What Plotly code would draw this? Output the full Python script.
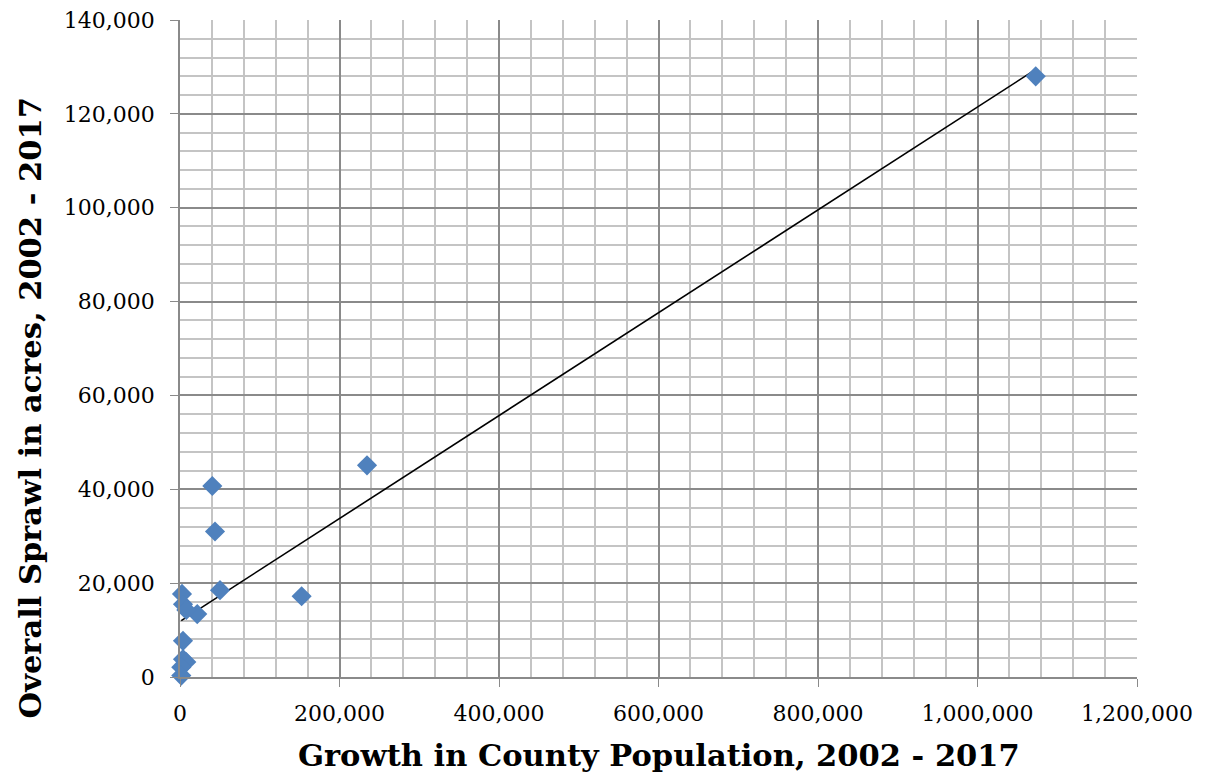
import numpy as np
import plotly.graph_objects as go

# County population growth vs. overall sprawl (acres), 2002 - 2017
pop_growth = [1073000, 234500, 40500, 43900, 50200, 152500, 21600,
              2500, 3750, 7900, 3750, 3750, 7900, 1600, 1600]
sprawl_acres = [128000, 45100, 40700, 31000, 18500, 17200, 13400,
                17700, 15500, 14300, 7700, 3800, 3200, 2100, 300]

x_ticks = [0, 200000, 400000, 600000, 800000, 1000000, 1200000]
x_tick_labels = ["0", "200,000", "400,000", "600,000", "800,000", "1,000,000", "1,200,000"]
y_ticks = [0, 20000, 40000, 60000, 80000, 100000, 120000, 140000]
y_tick_labels = ["0", "20,000", "40,000", "60,000", "80,000", "100,000", "120,000", "140,000"]

x_title = "Growth in County Population, 2002 - 2017"
y_title = "Overall Sprawl in acres, 2002 - 2017"

# least-squares linear trendline over the data range
xs = np.array(pop_growth, dtype=float)
ys = np.array(sprawl_acres, dtype=float)
slope, intercept = np.polyfit(xs, ys, 1)
trend_x = np.array([xs.min(), xs.max()])
trend_y = slope * trend_x + intercept

MAJOR = "#8A8A8A"
MINOR = "#C4C4C4"
TICK_FONT = dict(family="DejaVu Serif", size=22, color="black")
TITLE_FONT = dict(family="DejaVu Serif", size=30.5, color="black")

fig = go.Figure()
fig.add_trace(go.Scatter(
    x=trend_x, y=trend_y, mode="lines",
    line=dict(color="black", width=1.6),
    hoverinfo="skip", showlegend=False,
))
fig.add_trace(go.Scatter(
    x=pop_growth, y=sprawl_acres, mode="markers",
    marker=dict(symbol="diamond", size=15.5, color="#4F81BD",
                line=dict(width=0)),
    cliponaxis=False, showlegend=False,
))

fig.update_layout(
    width=1207, height=778,
    margin=dict(l=180, r=70, t=20, b=101, autoexpand=False),
    paper_bgcolor="white", plot_bgcolor="white",
    showlegend=False,
    xaxis=dict(
        range=[0, 1200000], tickvals=x_ticks, ticktext=x_tick_labels,
        automargin=False,
        showgrid=True, gridcolor=MAJOR, gridwidth=1.6,
        minor=dict(dtick=40000, tick0=0, showgrid=True, gridcolor=MINOR,
                   gridwidth=1.6, ticks=""),
        ticks="outside", ticklen=8, tickcolor=MAJOR, tickwidth=1.4,
        showline=True, linecolor=MAJOR, linewidth=1.6,
        zeroline=False, tickfont=TICK_FONT, ticklabelstandoff=8,
    ),
    yaxis=dict(
        range=[0, 140000], tickvals=y_ticks, ticktext=y_tick_labels,
        automargin=False,
        showgrid=True, gridcolor=MAJOR, gridwidth=1.6,
        minor=dict(dtick=4000, tick0=0, showgrid=True, gridcolor=MINOR,
                   gridwidth=1.6, ticks=""),
        ticks="outside", ticklen=8, tickcolor=MAJOR, tickwidth=1.4,
        showline=True, linecolor=MAJOR, linewidth=1.6,
        zeroline=False, tickfont=TICK_FONT, ticklabelstandoff=11,
    ),
    annotations=[
        dict(text="<b>%s</b>" % x_title, xref="paper", yref="paper",
             x=0.5, y=-0.1185, xanchor="center", yanchor="middle",
             showarrow=False, font=TITLE_FONT),
        dict(text="<b>%s</b>" % y_title, xref="paper", yref="paper",
             x=-0.157, y=0.41, xanchor="center", yanchor="middle",
             textangle=-90, showarrow=False, font=TITLE_FONT),
    ],
)

fig.write_html("out.html")
